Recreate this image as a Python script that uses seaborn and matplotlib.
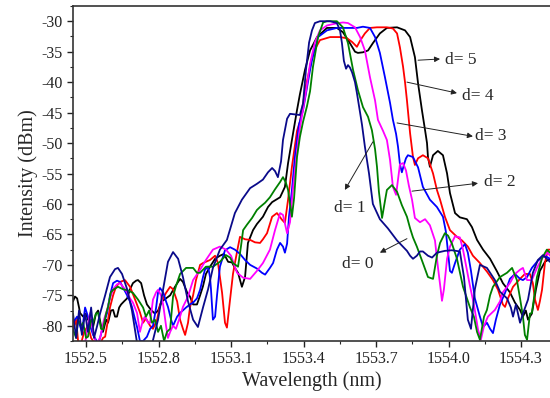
import matplotlib
matplotlib.use("Agg")
import matplotlib.pyplot as plt
import seaborn as sns
import pandas as pd
from matplotlib.ticker import MultipleLocator

# spectra: (wavelength nm, intensity dBm)
d0 = [(1552.446, -78), (1552.459, -82), (1552.471, -77.5), (1552.483, -81.5), (1552.496, -78),
      (1552.508, -81), (1552.521, -77), (1552.533, -82), (1552.546, -80), (1552.558, -78),
      (1552.579, -75), (1552.599, -72), (1552.620, -70.7), (1552.632, -70.5), (1552.649, -71.5),
      (1552.670, -74), (1552.690, -77.5), (1552.711, -82.8), (1552.744, -84), (1552.773, -83),
      (1552.798, -79), (1552.819, -74), (1552.839, -69.5), (1552.860, -67.9), (1552.881, -69),
      (1552.901, -72), (1552.922, -76), (1552.943, -79), (1552.963, -80.2), (1552.984, -77),
      (1553.005, -74), (1553.025, -70.5), (1553.054, -67.5), (1553.083, -65.9), (1553.116, -61.5),
      (1553.145, -59.3), (1553.179, -57.4), (1553.207, -56.7), (1553.232, -56), (1553.253, -54.8),
      (1553.270, -54.1), (1553.282, -54.6), (1553.294, -55.6), (1553.307, -53), (1553.315, -49.5),
      (1553.332, -46), (1553.344, -45.2), (1553.365, -45.3), (1553.385, -45.4), (1553.398, -43.5),
      (1553.410, -38), (1553.423, -33.5), (1553.435, -31.5), (1553.447, -30.3), (1553.468, -30),
      (1553.510, -30), (1553.538, -30.3), (1553.551, -31.5), (1553.559, -33.6), (1553.567, -36.5),
      (1553.576, -37.8), (1553.584, -37.2), (1553.592, -37.6), (1553.601, -38.4), (1553.613, -40),
      (1553.621, -41.8), (1553.634, -45), (1553.642, -47), (1553.654, -50.6), (1553.671, -55),
      (1553.687, -60), (1553.716, -62.5), (1553.749, -64), (1553.787, -66), (1553.828, -67.7),
      (1553.841, -68.5), (1553.853, -69), (1553.869, -68.5), (1553.882, -67.8), (1553.894, -67.8),
      (1553.915, -68.5), (1553.932, -68.8), (1553.952, -68), (1553.985, -67.7), (1554.014, -67.6),
      (1554.047, -67.8), (1554.064, -72), (1554.080, -79), (1554.093, -80.5), (1554.109, -74),
      (1554.130, -70), (1554.159, -70.5), (1554.192, -72.5), (1554.213, -74.4), (1554.242, -75.5),
      (1554.258, -77), (1554.267, -78.5), (1554.279, -76.5), (1554.296, -79.5), (1554.308, -78),
      (1554.329, -75.7), (1554.349, -71.3), (1554.370, -69.2), (1554.391, -68.4), (1554.420, -69.5)]

d1 = [(1552.446, -80.6), (1552.459, -82), (1552.467, -79), (1552.479, -80), (1552.488, -79.5),
      (1552.500, -82), (1552.508, -81.8), (1552.521, -79), (1552.529, -79.5), (1552.541, -78),
      (1552.550, -77.9), (1552.562, -80.5), (1552.570, -80.6), (1552.583, -78), (1552.591, -76.9),
      (1552.603, -74.5), (1552.612, -74.1), (1552.632, -73.6), (1552.653, -74), (1552.674, -74.2),
      (1552.694, -74.6), (1552.715, -75.7), (1552.736, -77), (1552.748, -78.5), (1552.761, -77.5),
      (1552.773, -79.5), (1552.785, -79), (1552.798, -81), (1552.810, -80), (1552.823, -82.5),
      (1552.835, -81), (1552.848, -80.5), (1552.860, -75.2), (1552.872, -73.5), (1552.889, -71.5),
      (1552.914, -70.5), (1552.943, -70.5), (1552.959, -71.3), (1552.972, -71.3), (1552.996, -70.3),
      (1553.025, -70.3), (1553.054, -69.5), (1553.079, -68.4), (1553.096, -68.8), (1553.108, -69.7),
      (1553.129, -70.3), (1553.141, -67), (1553.150, -64.3), (1553.166, -63.4), (1553.187, -62.3),
      (1553.207, -61), (1553.220, -60.5), (1553.241, -59.8), (1553.261, -58.9), (1553.282, -57.6),
      (1553.303, -56.4), (1553.315, -55.6), (1553.327, -56.5), (1553.336, -57.7), (1553.344, -60),
      (1553.352, -62.1), (1553.361, -59), (1553.373, -52.3), (1553.385, -49), (1553.398, -46.5),
      (1553.414, -44), (1553.427, -41.5), (1553.439, -37.5), (1553.460, -32.6), (1553.481, -30.2),
      (1553.497, -30), (1553.538, -30), (1553.563, -31), (1553.584, -33.6), (1553.605, -38),
      (1553.625, -41.3), (1553.646, -44.1), (1553.667, -45.7), (1553.683, -47.9), (1553.696, -51),
      (1553.704, -53.9), (1553.712, -58), (1553.725, -62.3), (1553.737, -59.5), (1553.745, -57.7),
      (1553.766, -56.9), (1553.787, -58), (1553.807, -60.2), (1553.828, -62.1), (1553.841, -64),
      (1553.853, -65.5), (1553.869, -67), (1553.894, -69.7), (1553.915, -72), (1553.936, -72.3),
      (1553.952, -68.5), (1553.965, -66.4), (1553.985, -64.8), (1553.998, -65.2), (1554.014, -66.5),
      (1554.035, -69), (1554.060, -73.6), (1554.089, -77), (1554.105, -78.5), (1554.118, -81),
      (1554.130, -82.3), (1554.147, -78.5), (1554.159, -77.4), (1554.172, -75), (1554.184, -73.6),
      (1554.213, -72), (1554.242, -71.3), (1554.263, -70.5), (1554.283, -72.5), (1554.296, -75.5),
      (1554.308, -78.5), (1554.316, -81.5), (1554.325, -82.3), (1554.337, -78), (1554.345, -77.9),
      (1554.366, -72), (1554.387, -68.9), (1554.407, -67.5), (1554.420, -68)]

d2 = [(1552.496, -83), (1552.504, -80.6), (1552.517, -77.9), (1552.529, -81), (1552.541, -83),
      (1552.558, -82), (1552.574, -79), (1552.587, -77.4), (1552.599, -75.5), (1552.612, -74),
      (1552.628, -73.2), (1552.641, -73), (1552.657, -73.8), (1552.670, -74.5), (1552.682, -75.5),
      (1552.694, -76.2), (1552.711, -77.9), (1552.723, -81), (1552.736, -79), (1552.744, -78.5),
      (1552.757, -79.5), (1552.765, -79.5), (1552.777, -75.7), (1552.790, -74.5), (1552.798, -74.1),
      (1552.810, -75), (1552.819, -76.5), (1552.831, -80), (1552.839, -82), (1552.848, -81),
      (1552.860, -80), (1552.872, -80.5), (1552.889, -78.5), (1552.901, -76.9), (1552.922, -75.2),
      (1552.943, -72.5), (1552.972, -70.8), (1552.996, -69.2), (1553.025, -67.5), (1553.054, -67),
      (1553.079, -67.5), (1553.100, -68.5), (1553.125, -71.3), (1553.150, -72.1), (1553.179, -72.3),
      (1553.207, -71), (1553.232, -69.7), (1553.261, -67.5), (1553.282, -64.3), (1553.303, -61.5),
      (1553.315, -61.8), (1553.332, -64.8), (1553.344, -63), (1553.356, -57.7), (1553.377, -50),
      (1553.385, -47.5), (1553.398, -44.5), (1553.410, -41.5), (1553.427, -37), (1553.447, -33.5),
      (1553.468, -31.5), (1553.497, -30.7), (1553.530, -30.4), (1553.563, -30.2), (1553.584, -30.3),
      (1553.613, -31), (1553.634, -32.6), (1553.654, -34.8), (1553.675, -39.2), (1553.696, -43),
      (1553.708, -46.2), (1553.729, -48), (1553.745, -49.5), (1553.758, -52.8), (1553.770, -57.2),
      (1553.783, -58.5), (1553.791, -56), (1553.799, -53.5), (1553.812, -53.3), (1553.824, -54.5),
      (1553.836, -57), (1553.849, -59.3), (1553.861, -62.3), (1553.882, -63), (1553.903, -62.5),
      (1553.923, -63.5), (1553.944, -66), (1553.956, -70.3), (1553.969, -74.5), (1553.973, -75.9),
      (1553.981, -74), (1553.994, -69), (1554.006, -67), (1554.027, -65.3), (1554.047, -65.5),
      (1554.060, -67.5), (1554.072, -70), (1554.089, -73.5), (1554.105, -76.5), (1554.122, -80.6),
      (1554.134, -82.3), (1554.147, -80), (1554.163, -78.5), (1554.192, -77.4), (1554.213, -76),
      (1554.225, -74.5), (1554.254, -73), (1554.275, -71.5), (1554.296, -70.8), (1554.308, -70.5),
      (1554.325, -72.5), (1554.345, -72.5), (1554.366, -70.5), (1554.391, -68.7), (1554.411, -68),
      (1554.420, -68.5)]

d3 = [(1552.446, -79.5), (1552.463, -78.5), (1552.475, -80), (1552.483, -81), (1552.496, -77),
      (1552.508, -78.5), (1552.517, -80), (1552.529, -81.5), (1552.537, -82), (1552.550, -83),
      (1552.558, -82), (1552.574, -79.5), (1552.587, -77.9), (1552.599, -75), (1552.612, -73),
      (1552.628, -72.6), (1552.641, -72.8), (1552.657, -74), (1552.670, -75), (1552.682, -76),
      (1552.690, -76.9), (1552.703, -79), (1552.711, -80.2), (1552.723, -82.5), (1552.736, -82.5),
      (1552.752, -81.8), (1552.765, -80.5), (1552.777, -80), (1552.790, -77), (1552.798, -74.5),
      (1552.806, -73.8), (1552.819, -74.5), (1552.831, -76), (1552.839, -76.9), (1552.852, -79),
      (1552.860, -80), (1552.877, -78.5), (1552.889, -77.9), (1552.914, -77), (1552.930, -76.5),
      (1552.943, -76.2), (1552.959, -75.5), (1552.972, -74.1), (1552.984, -72), (1552.992, -70.8),
      (1553.005, -70.3), (1553.013, -72), (1553.017, -74), (1553.025, -79), (1553.034, -78.5),
      (1553.042, -75), (1553.054, -70.3), (1553.075, -67.6), (1553.096, -67.1), (1553.116, -67.5),
      (1553.137, -68.2), (1553.158, -69.2), (1553.179, -70), (1553.207, -70.6), (1553.228, -71.3),
      (1553.241, -71.6), (1553.261, -70.5), (1553.274, -69.7), (1553.290, -67.5), (1553.303, -66.4),
      (1553.315, -67), (1553.323, -68), (1553.332, -66.5), (1553.340, -62), (1553.352, -57.7),
      (1553.365, -52), (1553.381, -47), (1553.398, -44.6), (1553.414, -41), (1553.427, -38),
      (1553.435, -36.4), (1553.460, -32.6), (1553.497, -31.5), (1553.538, -31.1), (1553.584, -31.1),
      (1553.621, -31.1), (1553.646, -30.9), (1553.675, -31.1), (1553.696, -32.6), (1553.716, -35.2),
      (1553.737, -39.2), (1553.758, -43.4), (1553.770, -46.2), (1553.783, -48.5), (1553.791, -50.6),
      (1553.799, -53.5), (1553.807, -54.8), (1553.816, -53.5), (1553.824, -52.5), (1553.832, -52),
      (1553.853, -52.3), (1553.874, -54), (1553.894, -57.2), (1553.923, -59.3), (1553.952, -60.5),
      (1553.977, -62.1), (1553.989, -64.5), (1553.998, -68), (1554.006, -71), (1554.014, -71.3),
      (1554.027, -69.7), (1554.047, -67.5), (1554.068, -66.6), (1554.080, -68), (1554.093, -71),
      (1554.109, -75.5), (1554.130, -78.5), (1554.143, -80.2), (1554.159, -79.5), (1554.172, -80.5),
      (1554.184, -81.2), (1554.196, -79), (1554.213, -76.5), (1554.234, -74.6), (1554.254, -72.3),
      (1554.275, -71.5), (1554.296, -72.3), (1554.308, -72.5), (1554.325, -72), (1554.345, -70.5),
      (1554.370, -69.3), (1554.399, -68.5), (1554.420, -69)]

d4 = [(1552.446, -80.6), (1552.459, -79), (1552.467, -82.5), (1552.479, -83), (1552.492, -81),
      (1552.508, -80), (1552.521, -82), (1552.537, -83), (1552.558, -83), (1552.570, -82),
      (1552.579, -81.8), (1552.591, -79), (1552.599, -77), (1552.612, -75), (1552.624, -73.6),
      (1552.641, -72.8), (1552.661, -72.5), (1552.682, -73.6), (1552.703, -75.7), (1552.723, -77.8),
      (1552.736, -79.5), (1552.748, -78.8), (1552.765, -80), (1552.777, -80.5), (1552.794, -79),
      (1552.806, -76.5), (1552.819, -75.5), (1552.831, -74.6), (1552.848, -73.6), (1552.860, -74),
      (1552.877, -76), (1552.889, -79), (1552.901, -80.5), (1552.910, -81.5), (1552.922, -79.5),
      (1552.930, -77), (1552.943, -75), (1552.955, -72.5), (1552.972, -70), (1552.984, -69.7),
      (1553.013, -69.2), (1553.034, -68.5), (1553.046, -69.7), (1553.054, -72), (1553.063, -74.6),
      (1553.075, -79.5), (1553.083, -80.3), (1553.096, -75.7), (1553.108, -71.5), (1553.116, -69.7),
      (1553.129, -67), (1553.137, -65.4), (1553.158, -65.8), (1553.179, -65.9), (1553.199, -66.3),
      (1553.220, -66.4), (1553.232, -65.8), (1553.249, -64.8), (1553.270, -62.1), (1553.290, -61.5),
      (1553.311, -62.6), (1553.323, -63.1), (1553.336, -59.3), (1553.352, -53.9), (1553.373, -48),
      (1553.385, -46.5), (1553.398, -43.5), (1553.410, -40.5), (1553.418, -39.2), (1553.439, -35.2),
      (1553.468, -33.1), (1553.510, -32.6), (1553.551, -32.6), (1553.580, -32.8), (1553.601, -33.4),
      (1553.621, -34.2), (1553.634, -33.2), (1553.654, -32), (1553.675, -31.1), (1553.704, -31),
      (1553.745, -31), (1553.770, -31.2), (1553.787, -32), (1553.799, -34.3), (1553.812, -37.5),
      (1553.820, -40), (1553.828, -43), (1553.841, -48.4), (1553.853, -52.3), (1553.861, -53.6),
      (1553.874, -52.5), (1553.894, -52), (1553.915, -52.5), (1553.936, -55), (1553.952, -57.7),
      (1553.965, -59.3), (1553.985, -62.1), (1554.006, -64.3), (1554.035, -65.4), (1554.056, -66),
      (1554.080, -67), (1554.101, -68.5), (1554.130, -69.7), (1554.159, -71.1), (1554.184, -72.5),
      (1554.205, -74.1), (1554.225, -76.5), (1554.234, -76.9), (1554.246, -75.5), (1554.267, -73.6),
      (1554.296, -72.3), (1554.316, -71.5), (1554.337, -71.5), (1554.349, -73), (1554.358, -75.7),
      (1554.370, -77.4), (1554.378, -76), (1554.387, -74.1), (1554.399, -69.7), (1554.411, -67.5),
      (1554.420, -67.5)]

d5 = [(1552.446, -76), (1552.454, -75.2), (1552.463, -75.5), (1552.471, -77), (1552.475, -77.9),
      (1552.488, -78.5), (1552.500, -78), (1552.508, -79), (1552.521, -79.5), (1552.529, -80.2),
      (1552.541, -78), (1552.550, -77.5), (1552.562, -80), (1552.570, -81), (1552.583, -79),
      (1552.591, -79.5), (1552.603, -77.5), (1552.612, -77.4), (1552.620, -78.5), (1552.628, -78.5),
      (1552.637, -77), (1552.645, -76.5), (1552.657, -76), (1552.670, -75.5), (1552.682, -74),
      (1552.694, -73), (1552.707, -72.6), (1552.715, -72.5), (1552.728, -73), (1552.740, -75),
      (1552.752, -76.5), (1552.769, -77.4), (1552.785, -78), (1552.798, -77.5), (1552.814, -76),
      (1552.831, -75.5), (1552.848, -75), (1552.868, -73.6), (1552.889, -72.3), (1552.901, -72.8),
      (1552.918, -74.5), (1552.930, -75.2), (1552.943, -76.5), (1552.959, -76.5), (1552.972, -75),
      (1552.984, -73.5), (1552.996, -71.5), (1553.013, -70.3), (1553.034, -69), (1553.054, -68.5),
      (1553.071, -68.2), (1553.088, -69.5), (1553.104, -69.6), (1553.116, -70.5), (1553.129, -71.3),
      (1553.145, -73.6), (1553.158, -72), (1553.170, -66.4), (1553.191, -64.3), (1553.207, -63.3),
      (1553.232, -62.1), (1553.253, -60.5), (1553.270, -59.7), (1553.303, -58.9), (1553.323, -57.2),
      (1553.336, -53.3), (1553.352, -49.5), (1553.373, -44.6), (1553.385, -42), (1553.406, -38),
      (1553.427, -34.8), (1553.456, -32.6), (1553.497, -31.1), (1553.538, -31.1), (1553.563, -31.8),
      (1553.592, -33.6), (1553.613, -35), (1553.625, -35.2), (1553.646, -35.1), (1553.667, -34.8),
      (1553.687, -33.6), (1553.716, -32), (1553.745, -31.1), (1553.787, -31), (1553.820, -31.5),
      (1553.841, -32.6), (1553.861, -35.9), (1553.874, -40.2), (1553.890, -44.6), (1553.903, -47.9),
      (1553.911, -50), (1553.915, -52.3), (1553.923, -53.9), (1553.936, -52), (1553.956, -51.3),
      (1553.977, -52), (1553.994, -55), (1554.006, -58.2), (1554.027, -61.5), (1554.047, -62.2),
      (1554.076, -62.5), (1554.097, -63.8), (1554.118, -65.9), (1554.143, -67.5), (1554.172, -69),
      (1554.201, -71.1), (1554.225, -73), (1554.254, -74.5), (1554.275, -76.2), (1554.296, -77.4),
      (1554.308, -78.5), (1554.320, -77.5), (1554.329, -79), (1554.345, -78), (1554.362, -74),
      (1554.378, -71), (1554.399, -69.5), (1554.420, -69)]

curves = [("d= 5", d5, "#000000"), ("d= 4", d4, "#ff0000"), ("d= 3", d3, "#0000ff"),
          ("d= 2", d2, "#ff00ff"), ("d= 1", d1, "#008000"), ("d= 0", d0, "#0a0a8a")]

# label text position, arrow tail (on curve), arrow head
labels = {
    "d= 5": ((1553.985, -36.3), (1553.874, -36.4), (1553.965, -36.2)),
    "d= 4": ((1554.054, -42.3), (1553.828, -40.0), (1554.035, -41.8)),
    "d= 3": ((1554.110, -48.8), (1553.787, -46.7), (1554.101, -48.9)),
    "d= 2": ((1554.145, -56.4), (1553.849, -57.9), (1554.122, -56.6)),
    "d= 1": ((1553.525, -60.6), (1553.687, -49.8), (1553.571, -57.7)),
    "d= 0": ((1553.560, -69.8), (1553.828, -65.7), (1553.716, -68.0)),
}

sns.set_style("ticks")
plt.rcParams["font.family"] = ["Liberation Serif", "DejaVu Serif"]
plt.rcParams["axes.unicode_minus"] = False

fig = plt.figure(figsize=(5.5, 3.98), dpi=100)
ax = fig.add_axes([73 / 550, 1 - 341 / 398, 1 - 73 / 550, 335 / 398])

for name, pts, col in curves:
    df = pd.DataFrame(pts, columns=["wl", "db"])
    sns.lineplot(data=df, x="wl", y="db", ax=ax, color=col, lw=1.3,
                 sort=False, estimator=None)

for name, (txt, tail, head) in labels.items():
    ax.annotate("", xy=head, xytext=tail,
                arrowprops=dict(arrowstyle="-|>", color="#222222", lw=0.7,
                                mutation_scale=8, shrinkA=0, shrinkB=0))
    ax.text(txt[0], txt[1], name, fontsize=12.5, va="center", ha="left")

ax.set_xlim(1552.446, 1554.42)
ax.set_ylim(-82.5, -27.5)
ax.xaxis.set_minor_locator(MultipleLocator(0.15))
ax.yaxis.set_minor_locator(MultipleLocator(2.5))
ax.set_xticks([1552.5, 1552.8, 1553.1, 1553.4, 1553.7, 1554.0, 1554.3])
ax.set_xticklabels(["1552.5", "1552.8", "1553.1", "1553.4", "1553.7", "1554.0", "1554.3"])
ax.set_yticks(range(-80, -29, 5))
ax.tick_params(which="major", direction="out", length=4, width=1, labelsize=11.5,
               colors="#222222")
ax.tick_params(which="minor", direction="out", length=2.5, width=0.8)
ax.set_xlabel("Wavelength (nm)", fontsize=14.5, labelpad=3)
ax.set_ylabel("Intensity (dBm)", fontsize=14.5, labelpad=2)
ax.spines["right"].set_visible(False)
for s in ["top", "left", "bottom"]:
    ax.spines[s].set_linewidth(1.2)
    ax.spines[s].set_color("#333333")

fig.savefig("out.png", dpi=100)
